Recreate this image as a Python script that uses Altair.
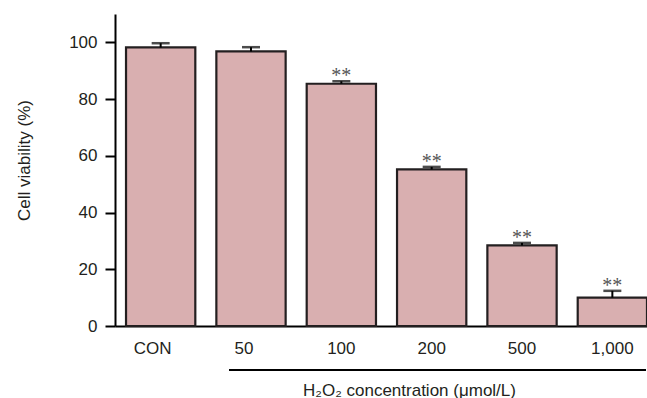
import altair as alt
import pandas as pd

categories = ["CON", "50", "100", "200", "500", "1,000"]
values = [98.2, 96.8, 85.4, 55.2, 28.4, 10.0]
errors = [1.5, 1.5, 0.9, 0.9, 0.9, 2.4]
stars = ["", "", "**", "**", "**", "**"]

df = pd.DataFrame({
    "cat": categories,
    "val": values,
    "err": errors,
    "star": stars,
})
df["upper"] = df["val"] + df["err"]

FONT = "Liberation Sans"
TXT = "#231f20"

xscale = alt.Scale(domain=categories, paddingInner=0.233, paddingOuter=0.061, align=1)
yscale = alt.Scale(domain=[0, 110])

x_enc = alt.X("cat:N", scale=xscale, sort=categories,
              axis=alt.Axis(title="H₂O₂ concentration (μmol/L)", labelAngle=0,
                            ticks=False, labelPadding=14, labelFontSize=17,
                            labelFont=FONT, labelColor=TXT,
                            labelOffset=alt.ExprRef(expr="datum.value == 'CON' ? -8 : (datum.value == '50' ? -7 : 0)"),
                            domainColor="black", domainWidth=2,
                            titleFont=FONT, titleFontSize=17, titleFontWeight="normal",
                            titleColor=TXT, titleX=294, titleY=64,
                            titleBaseline="middle", titleAlign="center"))

y_enc = alt.Y("val:Q", scale=yscale,
              axis=alt.Axis(title="Cell viability (%)", values=[0, 20, 40, 60, 80, 100],
                            grid=False, tickSize=10, tickWidth=2, tickColor="black",
                            domainColor="black", domainWidth=2, labelPadding=8,
                            labelFontSize=17, labelFont=FONT, labelColor=TXT,
                            titleFont=FONT, titleFontSize=17, titleFontWeight="normal",
                            titleColor=TXT, titleX=-91, titleY=146,
                            titleBaseline="middle", titleAngle=-90, titleAlign="center"))

base = alt.Chart(df)

bars = base.mark_bar(fill="#d9afb0", stroke="#231f20", strokeWidth=2.2).encode(
    x=x_enc, y=y_enc
)

err_line = base.mark_rule(color="black", strokeWidth=2).encode(
    x=alt.X("cat:N", scale=xscale, sort=categories),
    y=alt.Y("val:Q", scale=yscale),
    y2="upper:Q",
)

caps = base.mark_tick(color="black", thickness=2.5, size=18).encode(
    x=alt.X("cat:N", scale=xscale, sort=categories),
    y=alt.Y("upper:Q", scale=yscale),
)

star_text = base.mark_text(font="Liberation Serif", fontSize=20, color="#555555",
                           baseline="alphabetic", dy=1).encode(
    x=alt.X("cat:N", scale=xscale, sort=categories),
    y=alt.Y("upper:Q", scale=yscale),
    text="star:N",
)

line_df = pd.DataFrame({"k": [0]})
under_line = alt.Chart(line_df).mark_rule(color="black", strokeWidth=2).encode(
    x=alt.value(114), x2=alt.value(531), y=alt.value(356)
)

chart = alt.layer(bars, err_line, caps, star_text, under_line).properties(
    width=532, height=312,
    autosize=alt.AutoSizeParams(type="none"),
    padding={"left": 115, "top": 14, "right": 0, "bottom": 72},
).configure_view(stroke=None)

chart.save("out.html", embed_options={"renderer": "svg", "actions": False})
